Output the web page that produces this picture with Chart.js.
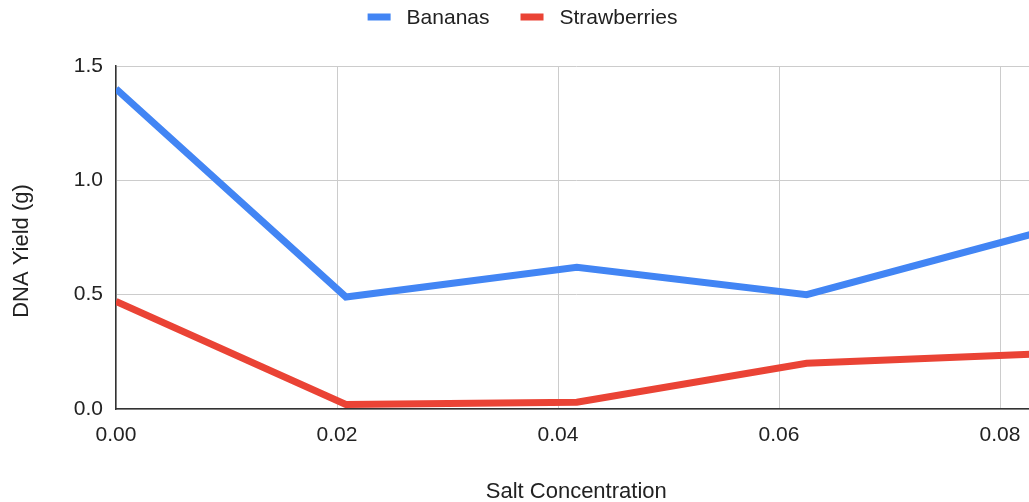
<!DOCTYPE html>
<html>
<head>
<meta charset="utf-8">
<title>DNA Yield vs Salt Concentration</title>
<script src="https://cdn.jsdelivr.net/npm/chart.js@4/dist/chart.umd.min.js"></script>
<style>
  html, body { margin: 0; padding: 0; background: #ffffff; overflow: hidden; }
  #wrap { position: relative; width: 1045px; height: 502px; }
</style>
</head>
<body>
<div id="wrap"><canvas id="chart"></canvas></div>
<script>
// Salt concentration of each extraction and the DNA recovered (grams)
const saltConcentration = [0, 0.0208, 0.0417, 0.0625, 0.0833];
const bananas = [1.40, 0.49, 0.62, 0.50, 0.77];
const strawberries = [0.47, 0.02, 0.03, 0.20, 0.24];
const seriesNames = ['Bananas', 'Strawberries'];
const seriesColors = ['#4285F4', '#EA4335'];
const xTitle = 'Salt Concentration';
const yTitle = 'DNA Yield (g)';

const FONT = "'Liberation Sans', Arial, sans-serif";
const TEXT = '#222222';

function toPoints(ys) {
  return saltConcentration.map((x, i) => ({ x: x, y: ys[i] }));
}

// Centered legend with short colored bars, plus the rotated y-axis title
const decorations = {
  id: 'decorations',
  afterDraw(chart) {
    const ctx = chart.ctx;
    ctx.save();
    ctx.font = '21px ' + FONT;
    ctx.textBaseline = 'middle';
    ctx.textAlign = 'left';
    const boxW = 23, boxH = 7, textGap = 16, itemGap = 31, cy = 17;
    const items = chart.data.datasets.map(ds => ({
      text: ds.label, color: ds.borderColor, w: ctx.measureText(ds.label).width
    }));
    let total = 0;
    items.forEach((it, i) => { total += boxW + textGap + it.w + (i ? itemGap : 0); });
    let x = chart.width / 2 - total / 2;
    items.forEach(it => {
      ctx.fillStyle = it.color;
      ctx.fillRect(x, cy - boxH / 2, boxW, boxH);
      ctx.fillStyle = TEXT;
      ctx.fillText(it.text, x + boxW + textGap, cy + 1);
      x += boxW + textGap + it.w + itemGap;
    });

    ctx.font = '22px ' + FONT;
    ctx.textAlign = 'center';
    ctx.translate(22, chart.height / 2);
    ctx.rotate(-Math.PI / 2);
    ctx.fillStyle = TEXT;
    ctx.fillText(yTitle, 0, 0);
    ctx.restore();
  }
};

new Chart(document.getElementById('chart'), {
  type: 'line',
  data: {
    datasets: [
      { label: seriesNames[0], data: toPoints(bananas), borderColor: seriesColors[0], backgroundColor: seriesColors[0] },
      { label: seriesNames[1], data: toPoints(strawberries), borderColor: seriesColors[1], backgroundColor: seriesColors[1] }
    ]
  },
  options: {
    responsive: true,
    maintainAspectRatio: false,
    animation: false,
    devicePixelRatio: 1,
    layout: { padding: { top: 66, right: 8.5, bottom: 0, left: 0 } },
    elements: {
      line: { borderWidth: 7, tension: 0, fill: false, borderJoinStyle: 'miter' },
      point: { radius: 0, hoverRadius: 0 }
    },
    datasets: { line: { clip: 0 } },
    plugins: {
      legend: { display: false },
      tooltip: { enabled: false }
    },
    scales: {
      x: {
        type: 'linear',
        min: 0,
        max: 0.0833,
        grid: { color: '#cccccc', lineWidth: 1, drawTicks: false },
        border: { color: '#333333', width: 1.5 },
        ticks: {
          stepSize: 0.02,
          includeBounds: false,
          padding: 14,
          color: TEXT,
          font: { family: FONT, size: 21 },
          maxRotation: 0,
          callback: v => Number(v).toFixed(2)
        },
        title: {
          display: true,
          text: xTitle,
          color: TEXT,
          font: { family: FONT, size: 22 },
          padding: { top: 0, bottom: -3 }
        },
        afterFit(scale) { scale.height = 93; }
      },
      y: {
        min: 0,
        max: 1.5,
        grid: { color: '#cccccc', lineWidth: 1, drawTicks: false },
        border: { color: '#333333', width: 1.5 },
        ticks: {
          stepSize: 0.5,
          padding: 13,
          color: TEXT,
          font: { family: FONT, size: 21 },
          callback: v => Number(v).toFixed(1)
        },
        afterFit(scale) { scale.width = 116; }
      }
    }
  },
  plugins: [decorations]
});
</script>
</body>
</html>
